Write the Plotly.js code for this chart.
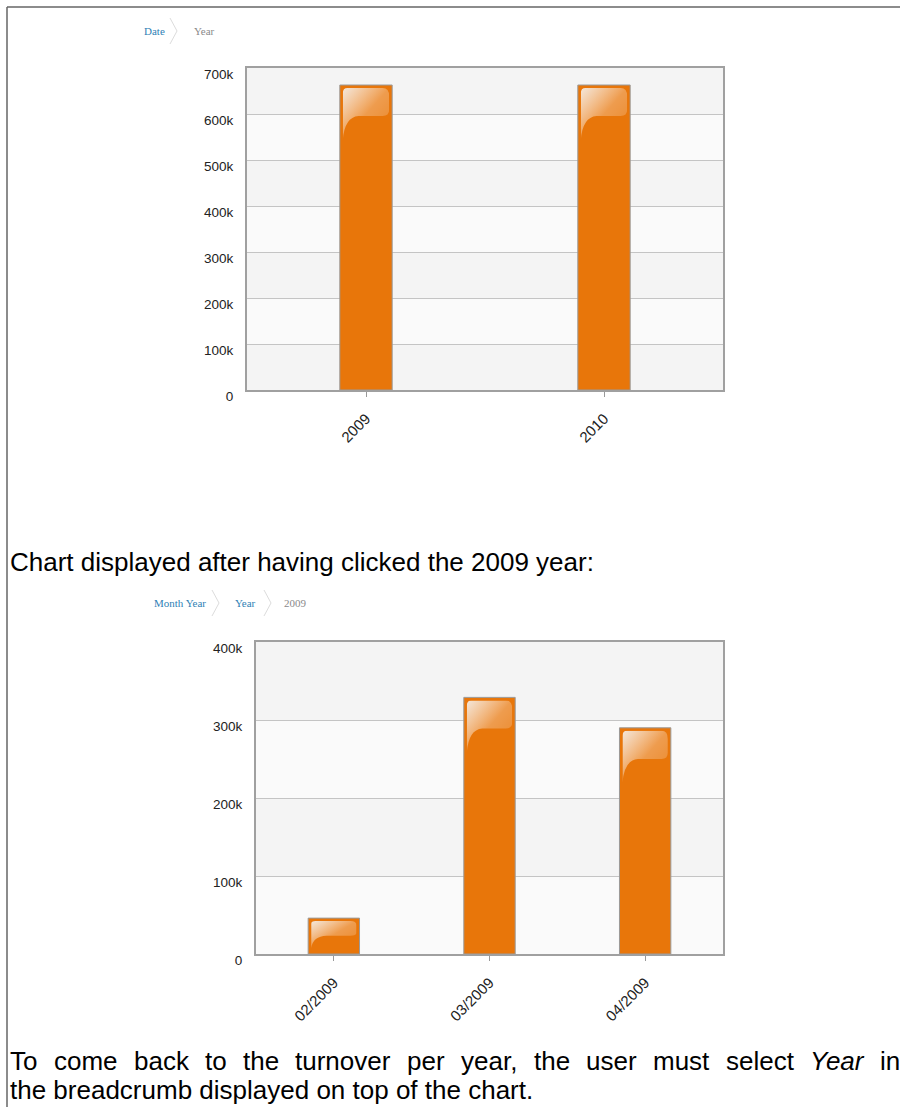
<!DOCTYPE html>
<html><head><meta charset="utf-8">
<script src="https://cdn.plot.ly/plotly-3.0.1.min.js"></script>
<style>html,body{margin:0;padding:0;background:#fff}#chart{width:900px;height:1107px}</style>
</head><body><div id="chart"></div>
<script>
// ---- data ----
const yearCategories = ['2009', '2010'];
const yearTurnover = [663000, 663000];
const yearTicks = [0, 100000, 200000, 300000, 400000, 500000, 600000, 700000];

const monthCategories = ['02/2009', '03/2009', '04/2009'];
const monthTurnover = [46000, 329000, 290000];
const monthTicks = [0, 100000, 200000, 300000, 400000];

const crumbsYear = ['Date', 'Year'];
const crumbsMonth = ['Month Year', 'Year', '2009'];

const captionMiddle = 'Chart displayed after having clicked the 2009 year:';
// justified first line of the closing paragraph (words, italic flags)
const captionEndWords = ['To', 'come', 'back', 'to', 'the', 'turnover', 'per', 'year,', 'the', 'user', 'must', 'select', 'Year', 'in'];
const captionEndItalic = [false, false, false, false, false, false, false, false, false, false, false, false, true, false];
const captionEnd2 = 'the breadcrumb displayed on top of the chart.';

// ---- layout helpers ----
const W = 900, H = 1107;
const px = x => x / W;
const py = y => 1 - y / H;
const SANS = 'Liberation Sans, Arial, sans-serif';
const SERIF = 'Liberation Serif, Times New Roman, serif';
const ORANGE = '#E8760A';

const yFont = {family: SANS, size: 13.5, color: '#222'};
const xFont = {family: SANS, size: 15, color: '#222'};

// plot frames in pixels
const frameYear = {l: 247, r: 723, t: 68, b: 390};
const frameMonth = {l: 256, r: 723, t: 642, b: 954};

function xAxis(f, anchor) {
  return {domain: [px(f.l), px(f.r)], anchor, type: 'category', tickangle: -45, ticks: 'outside', ticklen: 5,
    tickcolor: '#999', showline: true, linecolor: '#a0a0a0', linewidth: 2, mirror: true,
    showgrid: false, zeroline: false, tickfont: xFont, fixedrange: true, ticklabelstandoff: 7};
}
function yAxis(f, anchor, ticks) {
  return {domain: [py(f.b), py(f.t)], anchor, range: [ticks[0], ticks[ticks.length - 1]], tickvals: ticks, tickformat: '~s',
    showgrid: true, gridcolor: '#c4c4c4', gridwidth: 1, zeroline: false, showline: true,
    linecolor: '#a0a0a0', linewidth: 2, mirror: true, ticks: '', tickfont: yFont,
    ticklabelstandoff: 9, ticklabelshift: 6, fixedrange: true};
}

function bands(ticks, xref, yref) {
  const out = [];
  const n = ticks.length - 1;
  for (let i = 0; i < n; i++) {
    out.push({type: 'rect', xref: xref + ' domain', yref, x0: 0, x1: 1, y0: ticks[i], y1: ticks[i + 1],
      fillcolor: ((n - 1 - i) % 2 === 0) ? '#f4f4f4' : '#fafafa', line: {width: 0}, layer: 'below'});
  }
  return out;
}

function chevron(x, y) {
  return {type: 'path', xref: 'paper', yref: 'paper',
    path: `M ${px(x)} ${py(y - 13)} L ${px(x + 7)} ${py(y)} L ${px(x)} ${py(y + 13)}`,
    line: {color: '#dcdcdc', width: 1}};
}

function crumbAnnotations(labels, xs, y) {
  return labels.map((t, i) => ({
    text: t, xref: 'paper', yref: 'paper', x: px(xs[i]), y: py(y), xanchor: 'left', yanchor: 'middle',
    showarrow: false, font: {family: SERIF, size: 11, color: i === labels.length - 1 ? '#8a8a8a' : '#2f7fb5'}
  }));
}

// glossy highlight overlay on each bar (positioned from the data arrays)
const glossSvg = 'data:image/svg+xml;utf8,' + encodeURIComponent(
  '<svg xmlns="http://www.w3.org/2000/svg" viewBox="0 0 100 100" preserveAspectRatio="none">' +
  '<defs><linearGradient id="g" x1="0" y1="0" x2="1" y2="1">' +
  '<stop offset="0" stop-color="#f4f0ec" stop-opacity="0.92"/>' +
  '<stop offset="0.5" stop-color="#ffffff" stop-opacity="0.28"/>' +
  '<stop offset="1" stop-color="#ffffff" stop-opacity="0.12"/></linearGradient></defs>' +
  '<path d="M0,100 L0,10 Q0,0 10,0 L86,0 Q100,0 100,16 L100,42 Q100,54 86,54 L34,54 Q4,56 0,100 Z" fill="url(#g)"/></svg>');

function glossImages(cats, vals, barW, xref, yref, ticks, f) {
  const valPerPx = (ticks[ticks.length - 1] - ticks[0]) / (f.b - f.t);
  const catPerPx = cats.length / (f.r - f.l);
  const inset = 3 * catPerPx;
  return cats.map((c, i) => {
    const barPx = vals[i] / valPerPx;
    const hPx = Math.min(52, barPx * 0.75);
    return {source: glossSvg, xref, yref, x: i - barW / 2 + inset, y: vals[i] - 3 * valPerPx,
      sizex: barW - 2 * inset, sizey: hPx * valPerPx,
      xanchor: 'left', yanchor: 'top', sizing: 'stretch', layer: 'above'};
  });
}

const traces = [
  {type: 'bar', x: yearCategories, y: yearTurnover, xaxis: 'x', yaxis: 'y', width: 0.22,
   marker: {color: ORANGE, line: {color: '#9a9a9a', width: 1}}, hoverinfo: 'none'},
  {type: 'bar', x: monthCategories, y: monthTurnover, xaxis: 'x2', yaxis: 'y2', width: 0.33,
   marker: {color: ORANGE, line: {color: '#9a9a9a', width: 1}}, hoverinfo: 'none'}
];

const shapes = [
  ...bands(yearTicks, 'x', 'y'),
  ...bands(monthTicks, 'x2', 'y2'),
  {type: 'line', xref: 'paper', yref: 'paper', x0: px(7), x1: 1, y0: py(7), y1: py(7), line: {color: '#666', width: 1.5}},
  {type: 'line', xref: 'paper', yref: 'paper', x0: px(7), x1: px(7), y0: py(7), y1: 0, line: {color: '#666', width: 1.5}},
  chevron(170, 31),
  chevron(212, 603), chevron(264, 603)
];

// justified line: measure words and spread them across the full text width
const ctx = document.createElement('canvas').getContext('2d');
function measure(word, italic) {
  ctx.font = (italic ? 'italic ' : '') + '26px "Liberation Sans", Arial, sans-serif';
  return ctx.measureText(word).width;
}
const lineLeft = 8, lineRight = 898;
const widths = captionEndWords.map((w, i) => measure(w, captionEndItalic[i]));
const gap = (lineRight - lineLeft - widths.reduce((a, b) => a + b, 0)) / (captionEndWords.length - 1);
const justifiedAnnotations = [];
let cx = lineLeft;
captionEndWords.forEach((w, i) => {
  justifiedAnnotations.push({text: captionEndItalic[i] ? '<i>' + w + '</i>' : w, xref: 'paper', yref: 'paper',
    x: px(cx), y: py(1061), xanchor: 'left', yanchor: 'middle', showarrow: false,
    font: {family: SANS, size: 26, color: '#000'}});
  cx += widths[i] + gap;
});

const annotations = [
  ...crumbAnnotations(crumbsYear, [142, 192], 31),
  ...crumbAnnotations(crumbsMonth, [152, 233, 282], 603),
  {text: captionMiddle, xref: 'paper', yref: 'paper', x: px(8), y: py(562), xanchor: 'left', yanchor: 'middle',
   showarrow: false, font: {family: SANS, size: 26, color: '#000'}},
  ...justifiedAnnotations,
  {text: captionEnd2, xref: 'paper', yref: 'paper', x: px(8), y: py(1090), xanchor: 'left', yanchor: 'middle',
   showarrow: false, font: {family: SANS, size: 26, color: '#000'}}
];

const layout = {
  width: W, height: H, margin: {l: 0, r: 0, t: 0, b: 0}, paper_bgcolor: '#fff', plot_bgcolor: '#fafafa',
  showlegend: false, bargap: 0,
  xaxis: xAxis(frameYear, 'y'),
  yaxis: yAxis(frameYear, 'x', yearTicks),
  xaxis2: xAxis(frameMonth, 'y2'),
  yaxis2: yAxis(frameMonth, 'x2', monthTicks),
  shapes, annotations,
  images: [
    ...glossImages(yearCategories, yearTurnover, 0.22, 'x', 'y', yearTicks, frameYear),
    ...glossImages(monthCategories, monthTurnover, 0.33, 'x2', 'y2', monthTicks, frameMonth)
  ]
};

Plotly.newPlot('chart', traces, layout, {displayModeBar: false, staticPlot: true});
</script>
</body></html>
